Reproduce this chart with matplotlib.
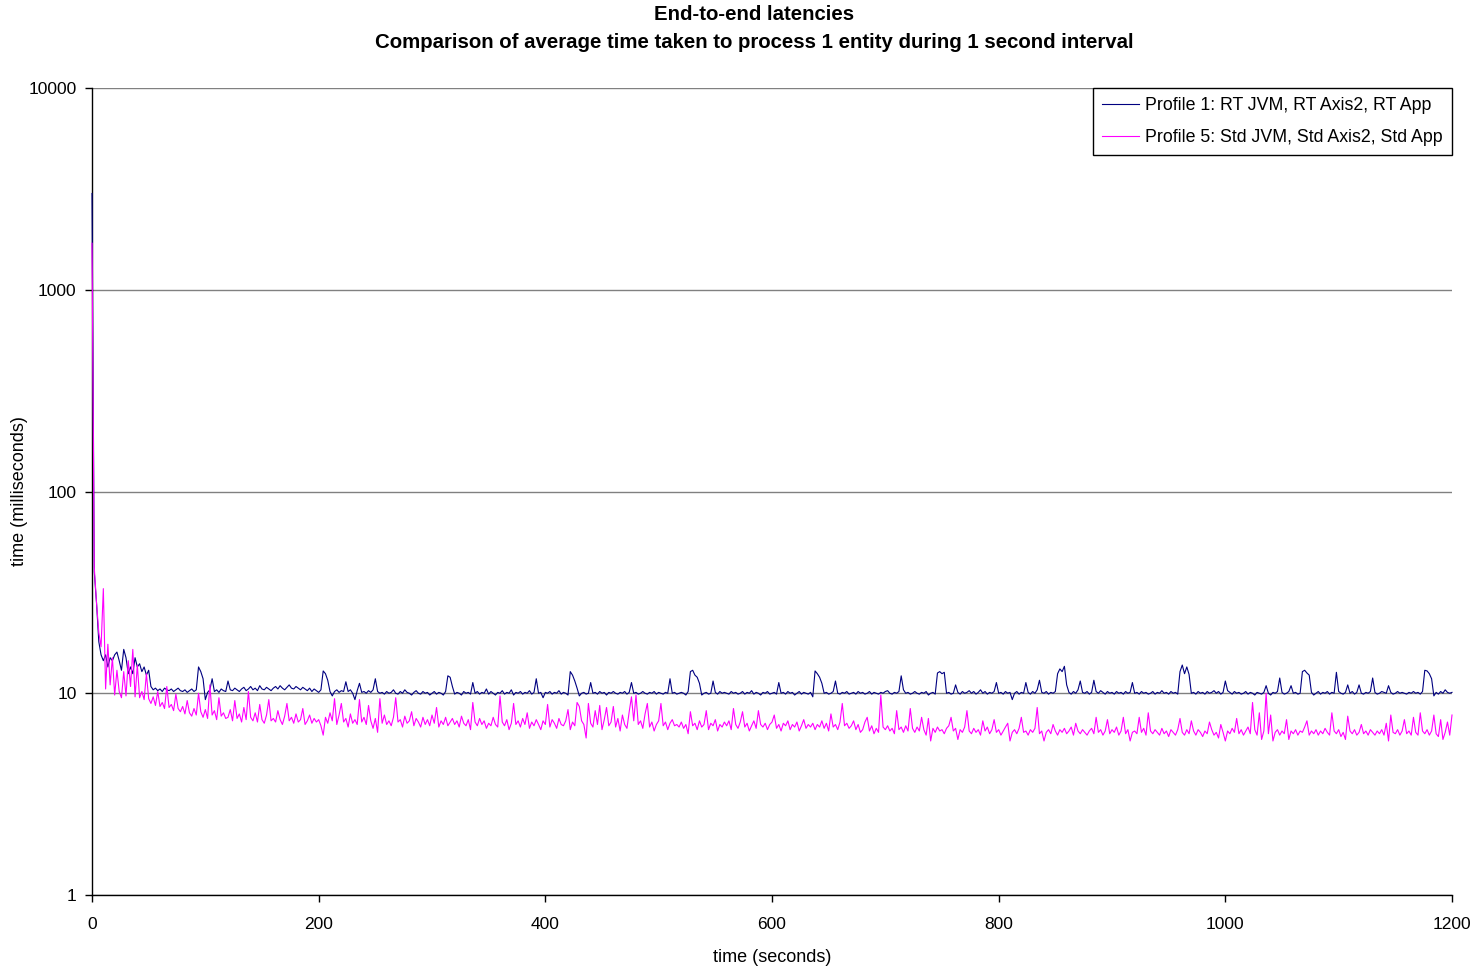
import numpy as np
import matplotlib.pyplot as plt

plt.rcParams['font.family'] = ['Liberation Sans', 'DejaVu Sans']

# time axis, one reading every 2 seconds
t = np.arange(0, 1201, 2)

# Profile 1: RT JVM, RT Axis2, RT App (ms)
rt_latency = [
    3000, 40, 28, 18, 15.5, 14.5, 15.5, 13.5, 15, 14.5, 15.5, 16, 14.5, 13, 16.5, 15, 12.5, 13.5, 12.5, 15,
    13.5, 14, 12.8, 13.5, 12.3, 13, 10.8, 10.4, 10.6, 10.3, 10.5, 10.2, 10.6, 10.4, 10.3, 10.5, 10.2, 10.4, 10.6, 10.3,
    10.2, 10.4, 10.1, 10.3, 10.5, 10.2, 10.4, 13.5, 12.8, 11.8, 9.3, 10.1, 10.4, 11.8, 10.2, 10.4, 10.1, 10.5, 10.3, 10.2,
    11.5, 10.4, 10.3, 10.6, 10.4, 10.2, 10.5, 10.7, 10.3, 10.5, 10.8, 10.4, 10.6, 10.3, 10.9, 10.5, 10.4, 10.7, 10.5, 10.3,
    10.6, 10.8, 10.5, 10.9, 10.6, 10.4, 10.7, 11.0, 10.6, 10.5, 10.8, 10.6, 10.4, 10.7, 10.5, 10.3, 10.6, 10.2, 10.5, 10.3,
    10.1, 10.4, 12.9, 12.5, 11.6, 10.2, 9.7, 10.2, 10.4, 10.1, 10.3, 10.2, 11.4, 10.2, 10.4, 10.0, 9.3, 10.3, 11.2, 10.1,
    10.2, 10.0, 10.3, 10.1, 10.4, 11.8, 10.2, 10.0, 10.1, 9.9, 10.2, 10.0, 10.1, 10.4, 10.0, 9.9, 10.2, 10.0, 10.4, 10.1,
    10.0, 9.8, 10.1, 10.3, 10.0, 9.9, 10.2, 10.0, 10.1, 9.8, 10.0, 10.2, 9.9, 10.1, 10.0, 9.8, 10.2, 12.2, 12.0, 10.8,
    9.9, 10.1, 10.0, 9.8, 10.2, 10.0, 10.1, 9.9, 11.3, 10.0, 10.2, 9.9, 10.1, 10.0, 10.5, 9.9, 10.2, 10.0, 9.8, 10.1,
    10.0, 10.3, 9.9, 10.1, 10.0, 10.4, 9.8, 10.1, 10.0, 10.2, 9.9, 10.1, 10.0, 10.3, 9.9, 10.1, 11.8, 10.0, 10.1, 9.5,
    10.1, 10.0, 10.2, 9.9, 10.1, 10.0, 10.3, 9.9, 10.1, 10.0, 9.8, 12.8, 12.3, 11.5, 10.6, 9.7, 10.0, 10.1, 9.9, 10.0,
    11.3, 10.0, 10.1, 9.9, 10.2, 10.0, 10.1, 9.8, 10.1, 10.0, 10.2, 10.0, 9.9, 10.1, 10.0, 10.2, 9.9, 10.1, 11.3, 10.0,
    10.1, 9.9, 10.0, 10.2, 10.0, 9.9, 10.1, 10.0, 10.2, 9.9, 10.1, 10.0, 9.9, 10.1, 10.0, 11.8, 10.0, 10.1, 9.9, 10.0,
    10.1, 10.0, 9.8, 10.2, 12.8, 13.0, 12.3, 12.0, 11.2, 9.8, 10.0, 10.1, 9.9, 10.0, 11.5, 10.1, 9.9, 10.2, 10.0, 10.1,
    10.0, 9.9, 10.2, 10.0, 10.1, 9.9, 10.0, 10.2, 9.9, 10.1, 10.0, 10.3, 9.9, 10.1, 10.0, 9.8, 10.1, 10.0, 10.2, 9.9,
    10.0, 10.1, 9.9, 11.3, 10.0, 10.1, 9.9, 10.2, 10.0, 10.1, 9.8, 10.0, 10.2, 9.9, 10.1, 10.0, 9.9, 10.1, 9.6, 12.9,
    12.5, 12.0, 11.2, 10.0, 10.1, 9.9, 10.0, 10.2, 11.5, 10.0, 9.9, 10.1, 10.0, 10.2, 9.9, 10.0, 10.1, 9.9, 10.2, 10.0,
    10.1, 9.9, 10.0, 10.2, 9.9, 10.1, 10.0, 9.9, 10.1, 10.0, 10.2, 10.3, 10.0, 9.9, 10.1, 10.0, 10.2, 12.2, 10.4, 10.0,
    10.1, 9.9, 10.0, 10.2, 10.0, 9.9, 10.1, 10.0, 10.2, 9.8, 10.0, 10.1, 9.9, 12.6, 12.8, 12.5, 12.7, 10.0, 10.1, 9.9,
    10.0, 11.0, 10.1, 9.9, 10.2, 10.0, 10.1, 10.3, 10.0, 10.2, 9.9, 10.1, 10.4, 10.0, 10.2, 9.9, 10.1, 10.0, 10.2, 11.3,
    10.0, 10.1, 9.9, 10.2, 10.0, 10.1, 9.3, 10.0, 10.2, 9.9, 10.1, 10.0, 11.3, 10.1, 9.9, 10.2, 10.0, 10.4, 11.6, 10.1,
    10.0, 10.2, 9.9, 10.1, 10.0, 10.2, 12.5, 13.2, 12.8, 13.6, 11.0, 10.1, 9.9, 10.2, 10.0, 10.4, 11.5, 10.1, 10.0, 10.2,
    9.9, 10.1, 11.6, 10.2, 10.0, 10.3, 10.1, 9.9, 10.2, 10.0, 10.1, 9.9, 10.2, 10.0, 10.1, 9.9, 10.2, 10.0, 10.1, 11.3,
    10.0, 10.1, 9.9, 10.2, 10.0, 10.1, 9.9, 10.0, 10.2, 9.9, 10.1, 10.0, 10.3, 10.0, 10.1, 9.9, 10.2, 10.0, 10.1, 9.9,
    12.8, 13.8, 12.5, 13.5, 12.4, 10.0, 10.1, 9.9, 10.2, 10.0, 10.1, 9.9, 10.2, 10.0, 10.1, 10.3, 10.0, 10.2, 9.9, 10.1,
    11.5, 10.3, 10.1, 9.9, 10.2, 10.0, 10.1, 9.9, 10.0, 10.2, 9.9, 10.1, 10.0, 9.8, 10.1, 10.0, 9.9, 10.1, 10.9, 10.0,
    9.8, 10.1, 10.0, 10.2, 11.9, 10.1, 9.9, 10.0, 10.2, 10.9, 10.0, 10.1, 9.9, 10.0, 12.8, 13.0, 12.6, 12.3, 10.1, 9.8,
    10.0, 10.2, 9.9, 10.1, 10.0, 10.2, 9.9, 10.1, 10.0, 12.7, 10.2, 10.0, 9.9, 10.1, 11.0, 10.0, 10.2, 9.9, 10.1, 11.0,
    10.0, 9.9, 10.1, 10.0, 10.2, 11.9, 10.1, 9.9, 10.0, 10.2, 10.1, 10.0, 10.9, 10.1, 9.9, 10.0, 10.2, 10.0, 10.1, 10.0,
    9.9, 10.1, 10.0, 10.2, 10.0, 10.1, 9.9, 10.2, 13.0, 12.9, 12.5, 11.8, 9.7, 10.1, 9.9, 10.2, 10.0, 10.4, 10.1, 10.0,
    10.1,
]

# Profile 5: Std JVM, Std Axis2, Std App (ms)
std_latency = [
    1700, 42, 28, 20, 17, 33, 10.5, 17.5, 11, 15, 9.8, 13, 10.2, 9.5, 12.8, 9.7, 14.5, 10.8, 16.5, 9.6,
    13.8, 9.5, 10.2, 9.3, 12.5, 9.4, 8.9, 9.6, 8.7, 10.2, 8.6, 9.0, 8.4, 10.8, 8.5, 8.8, 8.2, 9.9, 8.4, 8.1,
    8.6, 7.9, 9.2, 8.0, 7.7, 8.4, 7.8, 10.0, 8.1, 7.6, 8.3, 7.5, 11.0, 7.8, 8.2, 7.4, 9.5, 7.7, 8.0, 7.5,
    7.6, 8.3, 7.3, 9.2, 7.5, 7.9, 7.2, 8.5, 7.4, 10.2, 7.6, 7.3, 8.0, 7.2, 8.8, 7.4, 7.1, 7.8, 9.3, 7.3,
    7.5, 7.2, 8.2, 7.4, 7.0, 7.7, 8.9, 7.3, 7.6, 7.1, 7.9, 7.2, 7.4, 8.4, 7.0, 7.3, 7.8, 7.1, 7.5, 7.2,
    7.4, 6.9, 6.2, 7.6, 7.1, 8.0, 7.3, 9.4, 7.0, 7.8, 8.9, 7.2, 7.5, 6.8, 7.9, 7.1, 7.4, 7.0, 9.3, 7.2,
    7.6, 7.0, 8.7, 7.3, 6.7, 7.5, 6.4, 9.4, 7.1, 7.8, 7.0, 7.3, 6.9, 7.6, 9.5, 7.2, 7.4, 6.8, 7.7, 7.1,
    7.3, 8.1, 6.9, 7.5, 7.2, 6.8, 7.6, 7.0, 7.4, 6.9, 7.8, 7.1, 8.5, 6.8, 7.3, 7.0, 7.6, 6.9, 7.2, 7.5,
    7.0, 7.3, 6.8, 7.7, 7.1, 6.9, 7.4, 6.6, 9.0, 7.2, 6.9, 7.5, 7.0, 7.3, 6.7, 7.1, 6.9, 7.6, 7.0, 6.8,
    9.7, 7.2, 6.9, 7.4, 6.6, 7.1, 8.9, 7.0, 7.3, 6.8, 7.5, 7.0, 8.0, 6.7, 7.2, 6.9, 7.4, 7.0, 6.6, 7.3,
    7.0, 8.8, 6.8, 7.4, 7.1, 6.7, 7.5, 7.0, 6.9, 7.3, 8.3, 6.6, 7.2, 6.9, 9.0, 8.6, 7.3, 7.0, 6.0, 8.9,
    7.1, 6.8, 8.2, 7.0, 8.7, 6.6, 7.4, 8.5, 6.9, 7.2, 8.6, 6.8, 7.5, 6.5, 7.8, 7.0, 6.7, 8.1, 9.6, 7.3,
    9.8, 7.0, 7.3, 6.7, 7.9, 8.9, 6.8, 7.2, 6.5, 7.0, 7.3, 8.9, 6.9, 7.2, 6.6, 7.1, 7.4, 6.9, 7.0, 6.8,
    7.2, 6.7, 7.0, 6.3, 8.1, 6.9, 7.1, 6.6, 7.3, 6.8, 7.0, 8.2, 6.6, 7.1, 6.9, 7.4, 6.5, 7.0, 6.8, 7.2,
    6.9, 7.3, 6.6, 8.4, 7.0, 6.7, 7.2, 8.1, 6.8, 7.1, 6.5, 6.9, 7.3, 6.7, 8.2, 7.0, 6.8, 7.1, 6.6, 7.0,
    7.2, 7.8, 6.7, 7.0, 6.5, 7.1, 6.9, 7.3, 6.6, 7.0, 6.8, 7.2, 6.5, 6.9, 7.4, 6.7, 7.0, 6.8, 7.1, 6.6,
    7.0, 6.8, 7.3, 6.7, 7.1, 6.5, 7.9, 6.8, 7.0, 6.6, 7.2, 8.9, 6.9, 7.1, 6.7, 6.9, 7.3, 6.6, 7.0, 6.4,
    6.6, 7.2, 7.6, 6.5, 6.9, 6.3, 6.7, 6.4, 9.8, 6.8, 6.6, 6.9, 6.5, 6.7, 6.3, 8.2, 6.6, 6.8, 6.4, 6.9,
    6.5, 8.4, 6.7, 6.4, 6.8, 6.5, 7.6, 6.6, 6.2, 7.5, 5.8, 6.7, 6.4, 6.8, 6.5, 6.6, 6.3, 6.7, 6.9, 7.6,
    6.5, 6.7, 5.9, 6.6, 6.4, 6.8, 8.2, 6.5, 6.3, 6.7, 6.4, 6.6, 6.2, 7.3, 6.5, 6.8, 6.3, 6.6, 7.4, 6.4,
    6.6, 6.2, 6.5, 6.8, 7.1, 5.8, 6.4, 6.6, 6.3, 6.7, 7.6, 6.4, 6.5, 6.2, 6.6, 6.4, 6.7, 8.5, 6.3, 6.5,
    5.8, 6.4, 6.6, 6.3, 7.0, 6.5, 6.2, 6.6, 6.4, 6.7, 6.3, 6.5, 6.8, 6.2, 7.1, 6.5, 6.3, 6.6, 6.4, 6.2,
    6.5, 6.7, 6.3, 7.6, 6.4, 6.6, 6.2, 6.5, 7.4, 6.3, 6.6, 6.4, 6.8, 6.2, 6.5, 7.6, 6.3, 6.6, 5.8, 6.4,
    6.5, 6.3, 7.6, 6.4, 6.7, 6.2, 8.0, 6.5, 6.3, 6.6, 6.4, 6.2, 6.7, 6.3, 6.5, 6.1, 6.6, 6.4, 6.2, 6.6,
    7.5, 6.4, 6.2, 6.6, 6.3, 7.3, 6.5, 6.2, 6.6, 6.4, 6.1, 6.5, 6.3, 7.2, 6.6, 6.2, 6.4, 6.0, 7.0, 6.4,
    5.8, 6.5, 6.3, 6.7, 6.4, 7.5, 6.3, 6.6, 6.2, 6.5, 6.8, 6.3, 9.0, 6.6, 6.2, 8.0, 5.9, 6.5, 10.0, 6.3,
    7.8, 5.8, 6.4, 6.6, 6.2, 6.5, 6.3, 7.4, 5.9, 6.5, 6.3, 6.6, 6.2, 6.5, 6.4, 6.8, 7.3, 6.2, 6.5, 6.3,
    6.6, 6.2, 6.5, 6.3, 6.7, 6.4, 6.2, 8.0, 6.5, 6.3, 6.6, 6.1, 6.4, 5.9, 7.7, 6.5, 6.3, 6.6, 6.2, 6.4,
    7.0, 6.3, 6.5, 6.2, 6.6, 6.4, 6.2, 6.5, 6.3, 6.6, 6.2, 7.1, 5.8, 7.8, 6.4, 6.3, 6.6, 6.2, 6.5, 7.4,
    6.3, 6.5, 6.2, 7.6, 6.4, 6.2, 8.0, 6.5, 6.3, 6.6, 6.2, 6.5, 7.8, 6.3, 6.1, 7.4, 5.9, 6.4, 7.2, 6.2,
    7.8,
]

fig = plt.figure(figsize=(14.82, 9.67), dpi=100)
ax = fig.add_axes([92 / 1482, 1 - 895 / 967, 1360 / 1482, 807 / 967])

ax.plot(t, rt_latency, color='#000080', linewidth=0.8, zorder=3, clip_on=False,
        label='Profile 1: RT JVM, RT Axis2, RT App')
ax.plot(t, std_latency, color='#FF00FF', linewidth=0.8, zorder=3, clip_on=False,
        label='Profile 5: Std JVM, Std Axis2, Std App')

ax.set_yscale('log')
ax.set_ylim(1, 10000)
ax.set_xlim(0, 1200)
ax.set_xticks(range(0, 1201, 200))
ax.set_yticks([1, 10, 100, 1000, 10000])
ax.set_yticklabels(['1', '10', '100', '1000', '10000'])
ax.yaxis.set_minor_locator(plt.NullLocator())

ax.grid(True, axis='y', color='#808080', linewidth=1)
ax.set_axisbelow(True)
for side in ['top', 'right']:
    ax.spines[side].set_visible(False)
for side in ['left', 'bottom']:
    ax.spines[side].set_color('black')
    ax.spines[side].set_linewidth(1)

ax.tick_params(axis='both', direction='out', length=5, width=1, labelsize=12.5, colors='black')
ax.tick_params(axis='x', pad=11)
ax.tick_params(axis='y', pad=6)

ax.set_xlabel('time (seconds)', fontsize=13, labelpad=12)
fig.text(20 / 1482, 1 - 491 / 967, 'time (milliseconds)', rotation=90,
         ha='center', va='center', fontsize=13)

fig.text(754 / 1482, 1 - 14 / 967, 'End-to-end latencies', ha='center', va='center',
         fontsize=14.7, fontweight='bold')
fig.text(754 / 1482, 1 - 42 / 967,
         'Comparison of average time taken to process 1 entity during 1 second interval',
         ha='center', va='center', fontsize=14.7, fontweight='bold')

leg = ax.legend(loc='upper right', fontsize=12.8, frameon=True, fancybox=False,
                edgecolor='black', framealpha=1, borderaxespad=0,
                handlelength=2.1, handletextpad=0.35, borderpad=0.5, labelspacing=0.85)
leg.get_frame().set_linewidth(1)

fig.savefig('out.png', dpi=100)
